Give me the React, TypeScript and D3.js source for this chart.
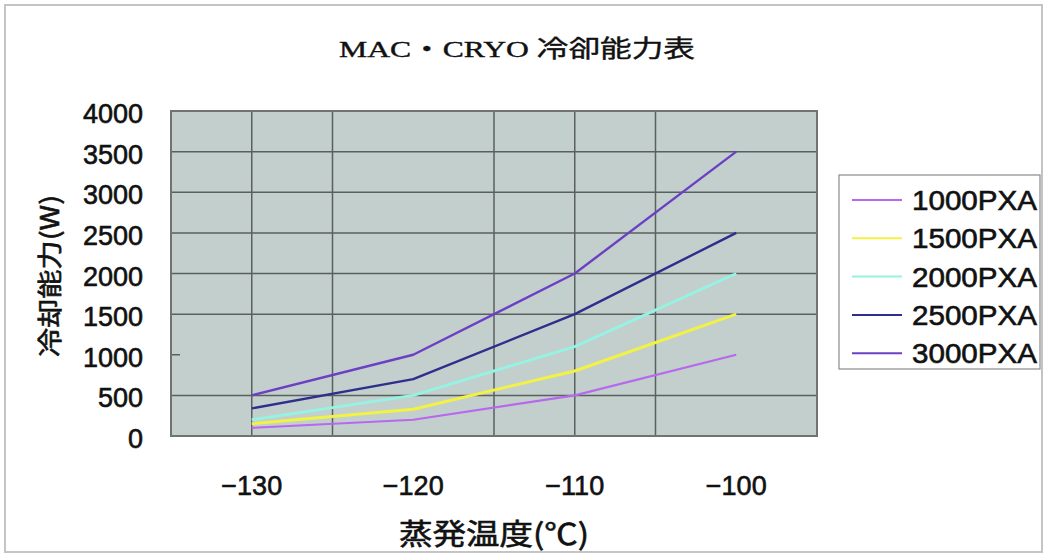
import React from "react";
import * as d3 from "d3";

// Evaporation temperature (°C) for each measured point
const temperatures = [-130, -120, -110, -100];

// Cooling capacity (W) per model
const series1000 = [100, 200, 500, 1000];
const series1500 = [150, 330, 800, 1500];
const series2000 = [200, 500, 1100, 2000];
const series2500 = [340, 700, 1500, 2500];
const series3000 = [500, 1000, 2000, 3500];

const seriesNames = ["1000PXA", "1500PXA", "2000PXA", "2500PXA", "3000PXA"];
const seriesValues = [series1000, series1500, series2000, series2500, series3000];
const seriesColors = ["#b868ee", "#f2f244", "#96f2e2", "#2e2e8c", "#6c40c4"];
const seriesWidths = [2.2, 3, 3, 2.4, 2.4];

// Axis ticks
const yTicks = [0, 500, 1000, 1500, 2000, 2500, 3000, 3500, 4000];
const xTickLabels = ["−130", "−120", "−110", "−100"];
// Grid lines that are visible on the chart
const yGridValues = [500, 1500, 2000, 2500, 3000, 3500];
const xGridValues = [-130, -125, -115, -110, -105];

const title = "MAC・CRYO 冷卻能力表";
const xTitle = "蒸発温度(℃)";
const yTitle = "冷却能力(W)";

const W = 1048;
const H = 558;
const plot = { left: 171, right: 817, top: 111, bottom: 436 };

const SANS = "'Liberation Sans', Arial, 'Noto Sans CJK JP', sans-serif";
const CJK = "'Noto Sans CJK JP', 'Noto Sans', sans-serif";
const SERIF = "'Liberation Serif', 'Noto Sans CJK JP', serif";

// slightly heavier text strokes
const heavy = { stroke: "#111", strokeWidth: 0.6 };

export default function App() {
  const x = d3.scaleLinear().domain([-135, -95]).range([plot.left, plot.right]);
  const y = d3.scaleLinear().domain([0, 4000]).range([plot.bottom, plot.top]);

  const line = d3
    .line<number>()
    .x((_, i) => x(temperatures[i]))
    .y((d) => y(d));

  const legendX = 839;
  const legendY = 175;
  const legendRowY = (i: number) => 200 + i * 38.3;

  return (
    <svg
      width={W}
      height={H}
      viewBox={`0 0 ${W} ${H}`}
      style={{ position: "absolute", left: 0, top: 0, background: "#ffffff" }}
    >
      {/* outer frame */}
      <rect x={5} y={5} width={1037} height={547} fill="#ffffff" stroke="#c4c4c4" strokeWidth={2} />

      {/* title */}
      <text
        x={339}
        y={57}
        fontFamily={SERIF}
        fontSize={24}
        fill="#111"
        stroke="#111"
        strokeWidth={0.4}
        textLength={356}
        lengthAdjust="spacingAndGlyphs"
      >
        {title}
      </text>

      {/* plot area */}
      <rect
        x={plot.left}
        y={plot.top}
        width={plot.right - plot.left}
        height={plot.bottom - plot.top}
        fill="#c3cfcd"
      />

      {/* grid */}
      {yGridValues.map((v) => (
        <line
          key={`hy${v}`}
          x1={plot.left}
          x2={plot.right}
          y1={y(v)}
          y2={y(v)}
          stroke="#5a605e"
          strokeWidth={1.5}
        />
      ))}
      <line x1={plot.left} x2={plot.left + 9} y1={y(1000)} y2={y(1000)} stroke="#5a605e" strokeWidth={1.5} />
      {xGridValues.map((v) => (
        <line
          key={`vx${v}`}
          x1={x(v)}
          x2={x(v)}
          y1={plot.top}
          y2={plot.bottom}
          stroke="#5a605e"
          strokeWidth={1.5}
        />
      ))}

      <rect
        x={plot.left}
        y={plot.top}
        width={plot.right - plot.left}
        height={plot.bottom - plot.top}
        fill="none"
        stroke="#6f7472"
        strokeWidth={2}
      />

      {/* series */}
      {seriesValues.map((vals, i) => (
        <path
          key={seriesNames[i]}
          d={line(vals) || ""}
          fill="none"
          stroke={seriesColors[i]}
          strokeWidth={seriesWidths[i]}
          strokeLinejoin="round"
        />
      ))}

      {/* y tick labels */}
      {yTicks.map((v) => (
        <text
          key={`yt${v}`}
          x={143}
          y={y(v) + 3}
          textAnchor="end"
          dominantBaseline="central"
          fontFamily={SANS}
          fontSize={27}
          fill="#111"
          {...heavy}
        >
          {v}
        </text>
      ))}

      {/* x tick labels */}
      {temperatures.map((t, i) => (
        <text
          key={`xt${t}`}
          x={x(t)}
          y={495}
          textAnchor="middle"
          fontFamily={SANS}
          fontSize={27}
          fill="#111"
          {...heavy}
        >
          {xTickLabels[i]}
        </text>
      ))}

      {/* axis titles */}
      <text
        x={(plot.left + plot.right) / 2}
        y={545}
        textAnchor="middle"
        fontFamily={CJK}
        fontSize={29}
        fill="#111"
        {...heavy}
        textLength={190}
        lengthAdjust="spacingAndGlyphs"
      >
        {xTitle}
      </text>
      <text
        transform={`translate(48, 276) rotate(-90)`}
        textAnchor="middle"
        dominantBaseline="central"
        fontFamily={CJK}
        fontSize={25}
        fill="#111"
        {...heavy}
        textLength={162}
        lengthAdjust="spacingAndGlyphs"
      >
        {yTitle}
      </text>

      {/* legend */}
      <rect x={legendX} y={legendY} width={201} height={194} fill="#ffffff" stroke="#8a8a8a" strokeWidth={1.2} />
      {seriesNames.map((name, i) => (
        <g key={`lg${name}`}>
          <line
            x1={852}
            x2={902}
            y1={legendRowY(i)}
            y2={legendRowY(i)}
            stroke={seriesColors[i]}
            strokeWidth={2}
          />
          <text
            x={912}
            y={legendRowY(i) + 1}
            dominantBaseline="central"
            fontFamily={SANS}
            fontSize={27}
            fill="#111"
            {...heavy}
            textLength={125}
            lengthAdjust="spacingAndGlyphs"
          >
            {name}
          </text>
        </g>
      ))}
    </svg>
  );
}
